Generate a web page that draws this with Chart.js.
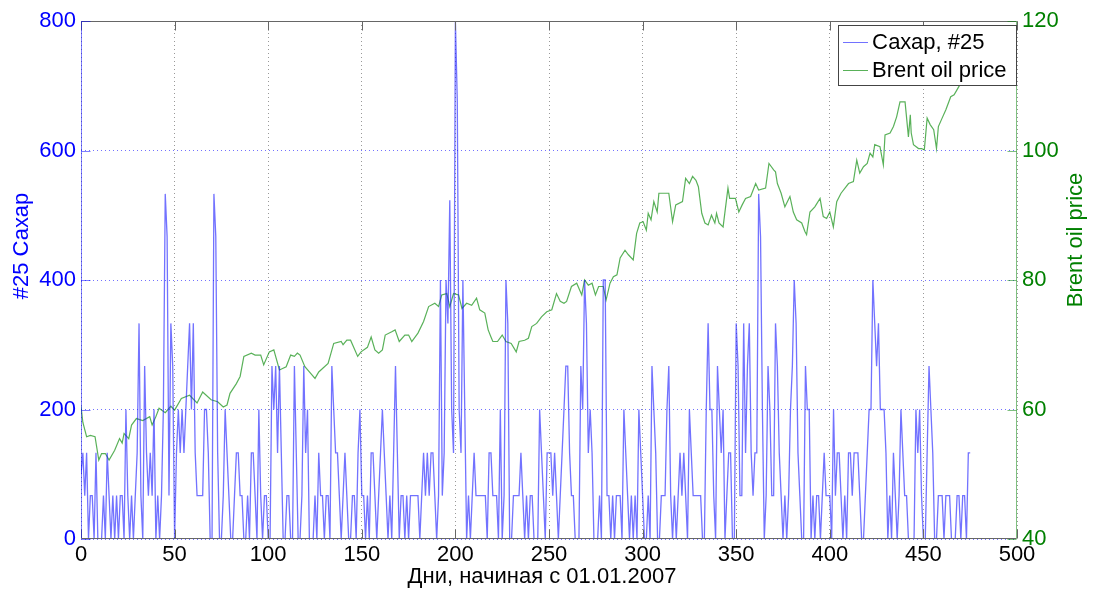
<!DOCTYPE html>
<html>
<head>
<meta charset="utf-8">
<script src="https://cdn.jsdelivr.net/npm/chart.js@4/dist/chart.umd.min.js"></script>
<style>
  html, body { margin: 0; padding: 0; background: #fff; }
  canvas { display: block; }
</style>
</head>
<body>
<canvas id="myChart" width="1097" height="597"></canvas>
<script>
// Sugar #25 quotes, one value per day starting 01.01.2007
var sugar = [
  100,133,67,133,0,67,67,0,133,0,
  0,0,67,0,133,67,0,67,0,67,
  0,67,67,0,200,67,0,67,0,67,
  133,333,67,0,267,133,67,133,67,200,
  0,67,0,67,200,533,467,67,333,267,
  0,133,200,133,200,133,200,267,333,200,
  333,133,67,67,67,67,200,200,133,0,
  0,533,467,133,0,0,67,200,133,67,
  0,0,67,133,133,67,67,0,0,67,
  0,133,133,67,0,200,67,0,67,67,
  0,0,267,200,267,133,267,133,0,0,
  67,67,0,0,267,133,0,0,67,267,
  133,200,0,0,0,67,0,133,67,67,
  0,67,67,0,267,200,133,133,67,0,
  67,133,67,0,0,67,67,0,133,200,
  67,67,0,67,0,133,133,67,0,67,
  133,200,133,67,0,67,0,133,267,133,
  0,67,67,0,67,0,67,67,67,67,
  67,0,67,133,67,133,67,133,133,67,
  0,67,400,67,133,400,333,523,200,133,
  800,678,200,133,400,200,0,67,0,67,
  133,67,67,67,67,67,67,0,133,133,
  67,67,67,0,200,0,67,400,333,0,
  0,67,67,67,67,133,67,0,67,0,
  67,67,0,0,0,200,133,67,0,133,
  133,133,67,133,67,0,67,133,200,267,
  267,133,67,67,0,0,0,267,200,400,
  333,133,200,133,0,0,0,67,0,400,
  400,67,67,0,67,0,67,67,67,0,
  200,133,67,0,67,0,67,0,200,133,
  67,0,0,67,0,267,200,133,0,0,
  67,67,67,200,267,67,0,67,0,67,
  133,67,133,67,0,200,133,67,67,67,
  67,67,0,0,200,333,200,200,67,0,
  267,200,133,200,0,67,133,133,0,0,
  333,267,67,67,333,133,267,333,133,67,
  133,133,533,467,200,0,67,267,200,67,
  67,333,267,133,67,0,67,0,67,200,
  267,400,333,133,67,0,0,267,200,200,
  0,67,0,67,67,0,67,133,67,67,
  67,0,200,67,133,133,67,0,67,0,
  133,133,67,133,133,133,67,0,0,67,
  133,200,200,400,333,267,333,200,200,200,
  133,0,67,0,133,67,0,67,200,133,
  67,67,0,0,0,0,200,133,200,67,
  0,0,133,267,200,133,0,0,67,67,
  67,0,67,67,67,0,0,0,67,67,
  0,67,67,0,133,133
];

// Brent oil price, read at the turning points of the curve
var oilDays = [
  0,1,3,5,7.5,9.5,11,13,15,18,20.6,22,23,25.5,27,29.6,33,36.7,38,40,
  41.7,45,48,50,53.6,58,62,65,69.5,73,76,78,79.6,83,85,87,91,93,96,97.6,
  100.6,103,106,109.6,112,114,115.6,117,119.6,122,125,127,132,135,139,140,142,144,147.8,149.6,
  153,155,157,159,161,162.5,166,167.8,170,173,175,176.7,180,183,185.7,189,191,192.7,195.4,197,
  199,201.7,203.5,206,208.7,211.3,213,215.7,217.5,219,220,222.5,225,227,229.8,232.5,234,237,239,240.8,
  243.4,246,248.8,251.5,254,256,258,259.4,262,264.8,267.5,269,271,273,274.8,276.5,279,280.5,282.6,284.4,
  286.3,288,290.6,292.4,295,296.8,298.5,300.3,302,303,304.5,306,307.8,308.7,311.3,314,316,317.7,321.3,323,
  325,326.7,328.5,329.8,331.6,333.3,335,336.8,338.6,339.5,340.8,343,345.6,346.5,349.6,351.4,353.2,355,357.7,360.4,
  362,365.7,367.5,370,371,372,374,376,378.7,380.5,382.3,385,386.7,387.6,389.4,392,394.8,396.5,398.3,400,
  401.9,403.7,406,410,412.6,414.4,416,418,420,421.5,423,424,426.8,428.6,429.5,432.2,434,435.7,437.5,440.2,
  442,443,443.5,444.7,447.4,449,450.5,452,453.6,455.5,457,458,460,462,464.6,466.4,468,470,473,475
];
var oilPrice = [
  60.5,58,55.8,56,55.8,52.2,53.2,53.2,52.2,53.7,55.5,54.8,56.3,55.5,57.6,58.6,58.3,58.9,57.6,58.9,
  60.2,59.5,60.5,59.9,61.7,62.2,61.0,62.7,61.5,61.2,60.4,60.7,62.5,64,65.1,68.2,68.7,68.4,68.4,66.9,
  68.9,69.2,66.1,66.6,68.4,68.2,68.7,68.4,66.6,65.8,64.8,65.8,67.1,70.2,70.5,70.0,70.7,70.7,68.2,68.9,
  69.6,71.2,69.2,68.7,69.2,71.5,72.0,72.3,70.5,71.5,71.5,70.5,71.8,73.6,75.9,76.4,75.9,77.7,77.9,75.9,
  77.9,77.7,75.6,76.4,76.1,77.2,75.4,74.9,72.3,71.2,70.5,70.5,71.5,70.5,70.2,68.9,70.5,70.7,71.0,72.8,
  73.3,74.3,75.1,75.4,77.9,76.7,76.4,76.7,79.0,79.5,77.7,80.0,79.2,79.5,77.7,79.0,79.0,76.9,79.5,80.5,
  80.8,83.4,84.6,83.9,83.1,87.2,88.8,89.0,87.7,90.3,89.3,92.1,90.5,93.4,93.4,93.4,89.0,91.6,92.1,95.7,
  94.9,96.0,95.4,94.4,90.3,88.8,88.5,90.0,88.8,90.3,88.8,88.2,94.2,92.6,92.6,90.5,91.6,92.6,92.9,94.9,
  93.9,94.2,98.0,97.0,96.7,94.9,93.4,91.3,92.9,90.5,89.3,88.8,87.5,87.0,90.5,91.3,92.6,89.8,89.5,90.5,
  88.2,92.1,93.4,94.9,95.2,98.5,96.5,97.5,98.0,99.6,99.0,100.9,100.6,97.8,102.4,102.7,103.7,105.2,107.5,107.5,
  102.1,105.5,102.7,100.9,100.3,100.3,100.1,105.0,104.0,103.2,100.3,103.7,105.0,106.3,108.3,108.6,109.4,110.4,111.9,113
];

var xTicks = [0, 50, 100, 150, 200, 250, 300, 350, 400, 450, 500];
var sugarTicks = [0, 200, 400, 600, 800];
var oilTicks = [40, 60, 80, 100, 120];

var BLUE = '#0000ff';
var GREEN = '#008000';
var FONT = '"Liberation Sans", Arial, sans-serif';
var FSIZE = 22;

var sugarPoints = sugar.map(function (v, i) { return { x: i, y: v }; });
var oilPoints = oilDays.map(function (d, i) { return { x: d, y: oilPrice[i] }; });

// Frame, inward tick marks, axis titles and legend in MATLAB style
var matlabDecor = {
  id: 'matlabDecor',
  afterDraw: function (chart) {
    var c = chart.ctx, a = chart.chartArea;
    var sx = chart.scales.x, sl = chart.scales.y, sr = chart.scales.y1;
    var L = Math.round(a.left) + 0.5, R = Math.round(a.right) - 0.5;
    var T = Math.round(a.top) + 0.5, B = Math.round(a.bottom) - 0.5;
    c.save();
    c.lineWidth = 1;

    // x ticks on top and bottom
    c.strokeStyle = '#666';
    xTicks.forEach(function (t) {
      var px = Math.round(sx.getPixelForValue(t)) + 0.5;
      c.beginPath();
      c.moveTo(px, B); c.lineTo(px, B - 9);
      c.moveTo(px, T); c.lineTo(px, T + 9);
      c.stroke();
    });
    c.beginPath(); c.moveTo(L, T); c.lineTo(R, T); c.stroke();
    c.beginPath(); c.moveTo(L, B); c.lineTo(R, B); c.stroke();

    // left axis
    c.strokeStyle = 'rgba(0,0,255,0.5)';
    c.beginPath(); c.moveTo(L, T); c.lineTo(L, B); c.stroke();
    sugarTicks.forEach(function (t) {
      var py = Math.round(sl.getPixelForValue(t)) + 0.5;
      c.beginPath(); c.moveTo(L, py); c.lineTo(L + 9, py); c.stroke();
    });

    // right axis
    c.strokeStyle = 'rgba(0,128,0,0.5)';
    c.beginPath(); c.moveTo(R, T); c.lineTo(R, B); c.stroke();
    oilTicks.forEach(function (t) {
      var py = Math.round(sr.getPixelForValue(t)) + 0.5;
      c.beginPath(); c.moveTo(R, py); c.lineTo(R - 9, py); c.stroke();
    });

    // axis titles
    c.font = FSIZE + 'px ' + FONT;
    c.textAlign = 'center';
    c.textBaseline = 'middle';
    c.fillStyle = '#000';
    c.fillText('Дни, начиная с 01.01.2007', 542, 577);

    c.save();
    c.translate(22, 246);
    c.rotate(-Math.PI / 2);
    c.fillStyle = BLUE;
    c.fillText('#25 Сахар', 0, 0);
    c.restore();

    c.save();
    c.translate(1076, 240);
    c.rotate(-Math.PI / 2);
    c.fillStyle = GREEN;
    c.fillText('Brent oil price', 0, 0);
    c.restore();

    // legend box
    var lx = 838.5, ly = 25.5, lw = 178, lh = 60;
    c.fillStyle = '#fff';
    c.fillRect(lx, ly, lw, lh);
    c.strokeStyle = '#444';
    c.strokeRect(lx, ly, lw, lh);
    c.textAlign = 'left';
    chart.data.datasets.forEach(function (ds, i) {
      var yy = 42 + i * 28;
      c.strokeStyle = ds.borderColor;
      c.beginPath(); c.moveTo(843, yy + 0.5); c.lineTo(868, yy + 0.5); c.stroke();
      c.fillStyle = '#000';
      c.fillText(ds.label, 872, yy + 1);
    });
    c.restore();
  }
};

var ctx = document.getElementById('myChart').getContext('2d');
var myChart = new Chart(ctx, {
  type: 'line',
  data: {
    datasets: [{
      label: 'Сахар, #25',
      data: sugarPoints,
      yAxisID: 'y',
      borderColor: 'rgba(20,20,255,0.6)',
      borderWidth: 1.3,
      pointRadius: 0,
      tension: 0,
      order: 1
    }, {
      label: 'Brent oil price',
      data: oilPoints,
      yAxisID: 'y1',
      borderColor: 'rgba(0,135,0,0.65)',
      borderWidth: 1.2,
      pointRadius: 0,
      tension: 0,
      order: 2
    }]
  },
  options: {
    responsive: false,
    animation: false,
    layout: { padding: { top: 21, right: 0, left: 0, bottom: 0 } },
    plugins: { legend: { display: false }, tooltip: { enabled: false } },
    scales: {
      x: {
        type: 'linear',
        min: 0, max: 500,
        afterBuildTicks: function (s) { s.ticks = xTicks.map(function (v) { return { value: v }; }); },
        afterFit: function (s) { s.height = 58; },
        ticks: { color: '#000', font: { size: FSIZE, family: FONT }, padding: 3, maxRotation: 0 },
        grid: { color: 'rgba(0,0,0,0.4)', drawTicks: false, lineWidth: 1 },
        border: { display: false, dash: [1, 3] }
      },
      y: {
        position: 'left',
        min: 0, max: 800,
        afterBuildTicks: function (s) { s.ticks = sugarTicks.map(function (v) { return { value: v }; }); },
        afterFit: function (s) { s.width = 81; },
        ticks: { color: BLUE, font: { size: FSIZE, family: FONT }, padding: 5 },
        grid: { color: 'rgba(0,0,255,0.55)', drawTicks: false, lineWidth: 1 },
        border: { display: false, dash: [1, 3] }
      },
      y1: {
        position: 'right',
        min: 40, max: 120,
        afterBuildTicks: function (s) { s.ticks = oilTicks.map(function (v) { return { value: v }; }); },
        afterFit: function (s) { s.width = 80; },
        ticks: { color: GREEN, font: { size: FSIZE, family: FONT }, padding: 5 },
        grid: { display: false, drawTicks: false },
        border: { display: false }
      }
    }
  },
  plugins: [matlabDecor]
});
</script>
</body>
</html>
